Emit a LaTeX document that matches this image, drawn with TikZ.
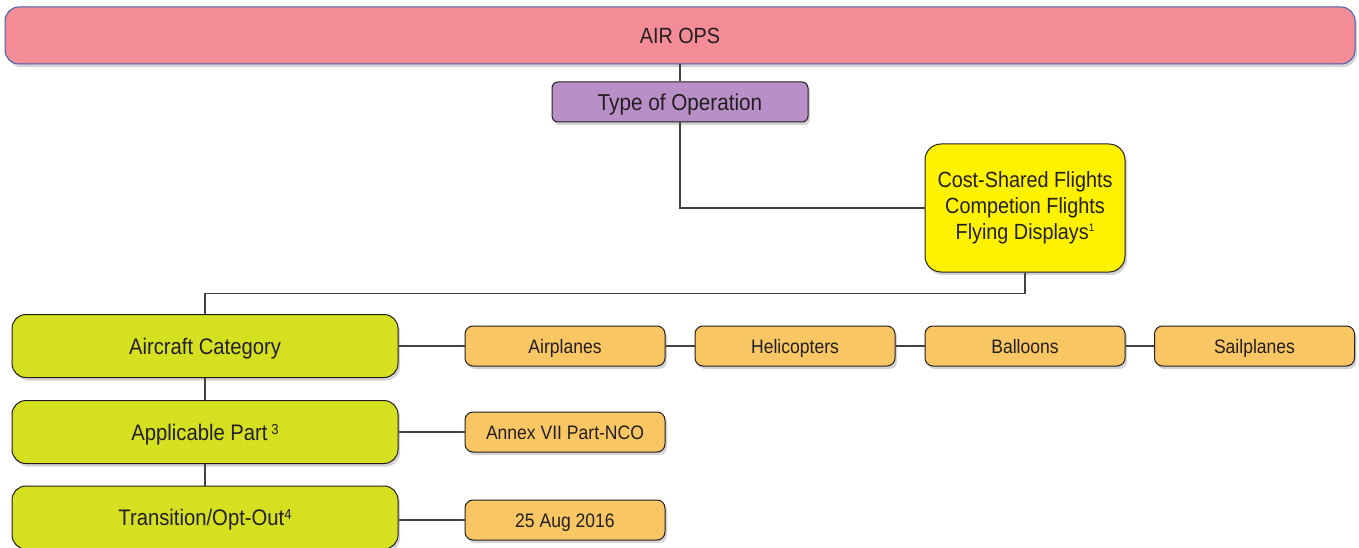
\documentclass[tikz,border=0pt]{standalone}
\usepackage{fontspec}
\setmainfont{Liberation Sans}[FakeStretch=0.9]
\usetikzlibrary{positioning,shadows}
\definecolor{opspink}{HTML}{F48C98}
\definecolor{opsblue}{HTML}{3F5FA8}
\definecolor{opspurple}{HTML}{B98FC8}
\definecolor{opsyellow}{HTML}{FFF200}
\definecolor{opslime}{HTML}{D5E021}
\definecolor{opsorange}{HTML}{F8C662}
\definecolor{opstext}{HTML}{231F20}
\tikzset{
  opsbox/.style={draw=opstext, line width=1pt, inner sep=0pt, align=center, text=opstext,
    drop shadow={shadow xshift=2pt, shadow yshift=-3pt, opacity=0.35}},
  opstop/.style={opsbox, fill=opspink, draw=opsblue, rounded corners=14pt,
    minimum width=1350pt, minimum height=57pt, text height=15.8pt, text depth=0pt,
    font=\fontsize{22}{26}\selectfont},
  opstype/.style={opsbox, fill=opspurple, rounded corners=6pt,
    minimum width=256pt, minimum height=40pt, text height=16.5pt, text depth=0pt,
    font=\fontsize{23}{26}\selectfont},
  opsflight/.style={opsbox, fill=opsyellow, rounded corners=16pt,
    minimum width=200pt, minimum height=128pt, font=\fontsize{22}{26}\selectfont},
  opsmain/.style={opsbox, fill=opslime, rounded corners=14pt,
    minimum width=386pt, minimum height=63pt, text height=16pt, text depth=0pt,
    font=\fontsize{22.5}{26}\selectfont},
  opsitem/.style={opsbox, fill=opsorange, rounded corners=8pt,
    minimum width=200pt, minimum height=40pt, text height=14pt, text depth=0pt,
    font=\fontsize{19.5}{22}\selectfont},
  opsline/.style={draw=opstext!85, line width=1.2pt},
}
% superscript: size, raise, text
\newcommand{\opssup}[3]{\raisebox{#2}{\fontsize{#1}{#1}\selectfont #3}}
\begin{document}
\begin{tikzpicture}[x=1pt, y=-1pt]
  \useasboundingbox (0,0) rectangle (1359,548);

  % Top levels
  \node[opstop] (air) at (680,35.5) {AIR OPS};
  \node[opstype] (type) at (680,102) {Type of Operation};
  \node[opsflight] (flights) at (1025,208) {Cost-Shared Flights\\Competion Flights\\Flying Displays\opssup{11}{8pt}{1}};

  % Left column
  \node[opsmain] (cat) at (205,346) {Aircraft Category};
  \node[opsmain] (part) at (205,432) {Applicable Part\,\opssup{14.5}{6pt}{3}};
  \node[opsmain] (trans) at (205,517.5) {Transition/Opt-Out\opssup{14.5}{6pt}{4}};

  % Aircraft categories
  \node[opsitem] (plane) at (565,346) {Airplanes};
  \node[opsitem] (heli) at (795,346) {Helicopters};
  \node[opsitem] (balloon) at (1025,346) {Balloons};
  \node[opsitem] (sail) at (1254.5,346) {Sailplanes};

  % Part and date
  \node[opsitem] (annex) at (565,432) {Annex VII Part-NCO};
  \node[opsitem] (date) at (565,520) {25 Aug 2016};

  % Connectors
  \draw[opsline] (air.south) -- (type.north);
  \draw[opsline] (type.south) |- (flights.west);
  \draw[opsline] (flights.south) -- ++(0,21) coordinate (split) -| (cat.north);
  \draw[opsline] (cat.south) -- (part.north);
  \draw[opsline] (part.south) -- (trans.north);
  \draw[opsline] (cat.east) -- (plane.west);
  \draw[opsline] (plane.east) -- (heli.west);
  \draw[opsline] (heli.east) -- (balloon.west);
  \draw[opsline] (balloon.east) -- (sail.west);
  \draw[opsline] (part.east) -- (annex.west);
  \draw[opsline] (date.west) -- (date.west -| trans.east);
\end{tikzpicture}
\end{document}
